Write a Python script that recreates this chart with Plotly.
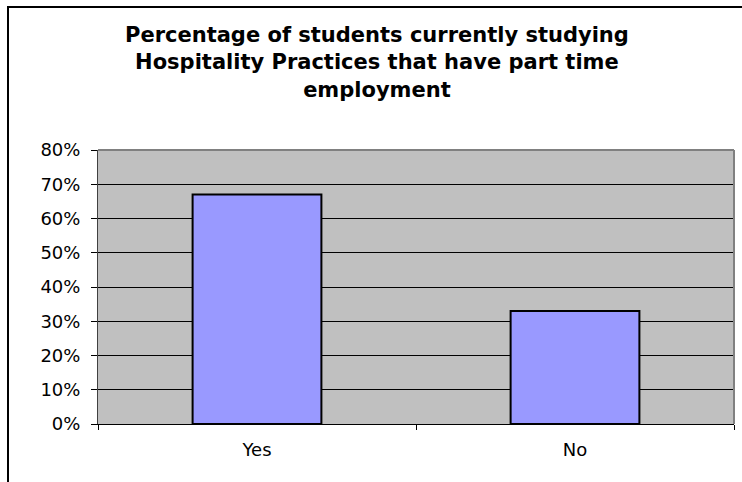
import plotly.graph_objects as go

categories = ["Yes", "No"]
values = [0.67, 0.33]
y_ticks = [0, 0.1, 0.2, 0.3, 0.4, 0.5, 0.6, 0.7, 0.8]
y_tick_labels = ["0%", "10%", "20%", "30%", "40%", "50%", "60%", "70%", "80%"]
title_text = ("Percentage of students currently studying<br>"
              "Hospitality Practices that have part time<br>employment")

W, H = 742, 482
ml, mr, mt, mb = 98, 8, 150, 58
pw, ph = W - ml - mr, H - mt - mb

def px_to_paper_x(px):
    return (px - ml) / pw

def py_to_paper_y(py):
    return (H - mb - py) / ph

fig = go.Figure()
fig.add_trace(go.Bar(
    x=categories, y=values, width=0.405,
    marker=dict(color="#9999FF", line=dict(color="black", width=2)),
))

font_family = "DejaVu Sans, Arial, sans-serif"
fig.update_layout(
    width=W, height=H,
    margin=dict(l=ml, r=mr, t=mt, b=mb),
    paper_bgcolor="white",
    plot_bgcolor="#C0C0C0",
    showlegend=False,
    title=dict(text=title_text, x=0.508, xref="container", xanchor="center",
               y=1 - 42 / H, yref="container", yanchor="top",
               font=dict(family=font_family, size=21, color="black", weight="bold")),
    font=dict(family=font_family, size=18, color="black"),
    xaxis=dict(type="category", tickson="boundaries", ticks="outside", ticklen=5,
               tickcolor="black", showline=True, linecolor="black", linewidth=1,
               showgrid=False, mirror=False, tickfont=dict(size=18),
               ticklabelstandoff=9),
    yaxis=dict(range=[0, 0.8], tickvals=y_ticks, ticktext=y_tick_labels,
               ticks="outside", ticklen=6, tickcolor="black",
               showline=True, linecolor="#404040", linewidth=1,
               showgrid=True, gridcolor="black", gridwidth=1,
               zeroline=False, tickfont=dict(size=18), ticklabelstandoff=7),
)

# gray right and top plot-area borders
fig.add_shape(type="line", xref="paper", yref="paper", x0=0, x1=1, y0=1, y1=1,
              line=dict(color="#808080", width=2), layer="above")
fig.add_shape(type="line", xref="paper", yref="paper", x0=1, x1=1, y0=0, y1=1,
              line=dict(color="#808080", width=2), layer="above")

# outer chart frame (extends beyond the visible window on right and bottom)
fig.add_shape(type="rect", xref="paper", yref="paper",
              x0=px_to_paper_x(8), x1=px_to_paper_x(760),
              y0=py_to_paper_y(500), y1=py_to_paper_y(7),
              line=dict(color="black", width=2), fillcolor="rgba(0,0,0,0)")

fig.write_html("out.html")
